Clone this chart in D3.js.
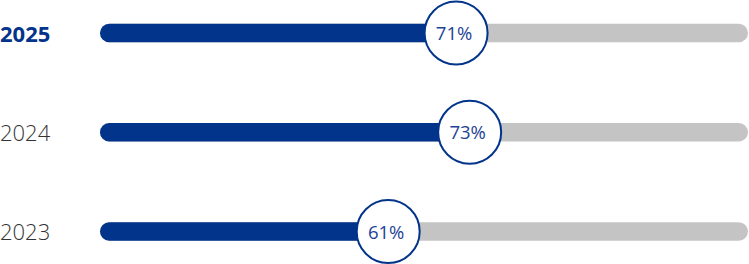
<!DOCTYPE html>
<html>
<head>
<meta charset="utf-8">
<script src="https://cdn.jsdelivr.net/npm/d3@7"></script>
<style>
html,body{margin:0;padding:0;background:#fff;}
svg{display:block;}
</style>
</head>
<body>
<svg id="chart" width="749" height="264"></svg>
<script>
const years = ["2025", "2024", "2023"];
const values = [71, 73, 61];
const highlight = ["2025"];

const svg = d3.select("#chart");
const W = 749, H = 264;

const y = d3.scalePoint().domain(years).range([33, 231.5]);
const x = d3.scaleLinear().domain([0, 100]).range([-26, 653]);
const trackStart = 100, trackEnd = 748, barH = 18.5, r = 31.5;
const blue = "#03348b", grey = "#c4c4c4";

const rows = svg.selectAll("g.row").data(years.map((yr, i) => ({yr, v: values[i]})))
  .enter().append("g").attr("class", "row");

rows.append("rect")
  .attr("x", trackStart).attr("y", d => y(d.yr) - barH / 2)
  .attr("width", trackEnd - trackStart).attr("height", barH)
  .attr("rx", barH / 2).attr("fill", grey);

rows.append("rect")
  .attr("x", trackStart).attr("y", d => y(d.yr) - barH / 2)
  .attr("width", d => x(d.v) - trackStart).attr("height", barH)
  .attr("rx", barH / 2).attr("fill", blue);

rows.append("circle")
  .attr("cx", d => x(d.v)).attr("cy", d => y(d.yr)).attr("r", r)
  .attr("fill", "#fff").attr("stroke", blue).attr("stroke-width", 2);

rows.append("text")
  .attr("x", d => x(d.v) - 2).attr("y", d => y(d.yr) + 7)
  .attr("text-anchor", "middle")
  .attr("font-family", "'Open Sans', sans-serif")
  .attr("font-size", 18.5).attr("font-weight", 400)
  .attr("fill", "#1d4396")
  .text(d => d.v + "%");

rows.append("text")
  .attr("x", 0).attr("y", d => y(d.yr) + 8.5)
  .attr("font-family", "'Open Sans', sans-serif")
  .attr("font-size", 22)
  .attr("font-weight", d => highlight.includes(d.yr) ? 700 : 300)
  .attr("fill", d => highlight.includes(d.yr) ? blue : "#333")
  .text(d => d.yr);
</script>
</body>
</html>
